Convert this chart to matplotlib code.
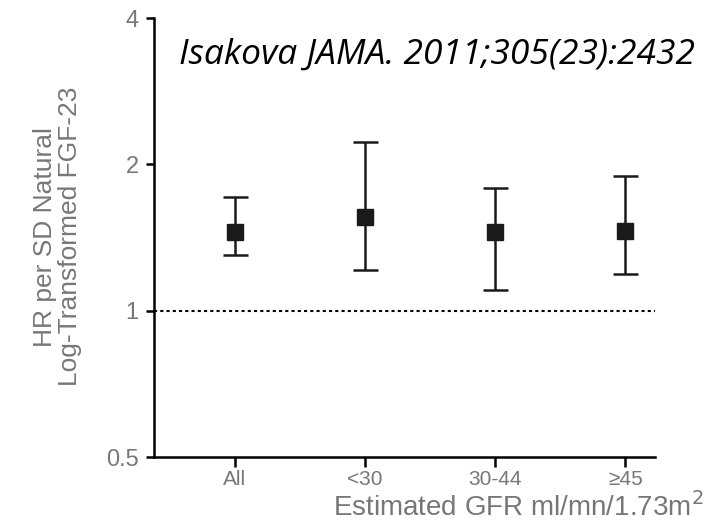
import matplotlib
matplotlib.use("Agg")
import matplotlib.pyplot as plt
import numpy as np
from matplotlib.ticker import FixedLocator, NullLocator

categories = ["All", "<30", "30-44", "≥45"]
hr = [1.455, 1.56, 1.455, 1.46]
ci_low = [1.30, 1.21, 1.105, 1.19]
ci_high = [1.71, 2.22, 1.785, 1.89]
y_ticks = [0.5, 1, 2, 4]
y_tick_labels = ["0.5", "1", "2", "4"]

fig = plt.figure(figsize=(7.07, 5.25), dpi=100)
ax = fig.add_axes([0.218, 0.1295, 0.709, 0.836])

x = np.arange(1, len(categories) + 1)
hr_a = np.array(hr)
yerr = np.vstack([hr_a - np.array(ci_low), np.array(ci_high) - hr_a])
ax.errorbar(x, hr_a, yerr=yerr, fmt="s", color="#1a1a1a", ms=12,
            capsize=9, elinewidth=1.8, capthick=1.8, zorder=3)
ax.axhline(1, xmin=0, xmax=1.0, color="black", ls=(0, (1.5, 1.5)), lw=1.5, zorder=1)

ax.set_yscale("log", base=2)
ax.set_ylim(0.5, 4)
ax.set_xlim(0.38, 4.23)
ax.yaxis.set_major_locator(FixedLocator(y_ticks))
ax.yaxis.set_minor_locator(NullLocator())
ax.set_yticklabels(y_tick_labels)
ax.set_xticks(x)
ax.set_xticklabels(categories)

for s in ["top", "right"]:
    ax.spines[s].set_visible(False)
for s in ["left", "bottom"]:
    ax.spines[s].set_linewidth(1.8)
ax.tick_params(axis="y", direction="out", length=6, width=1.8, pad=5, labelsize=17)
ax.tick_params(axis="x", direction="out", length=7, width=1.8, pad=2, labelsize=15)
for lbl in ax.get_xticklabels() + ax.get_yticklabels():
    lbl.set_color("#777777")
    lbl.set_family("Liberation Sans")

fig.text(0.081, 0.549, "HR per SD Natural\nLog-Transformed FGF-23", rotation=90,
         ha="center", va="center", fontsize=19,
         color="#777777", family="Liberation Sans", linespacing=1.05)
fig.text(0.983, 0.895, "Isakova JAMA. 2011;305(23):2432", ha="right", va="center",
         fontsize=25.5, style="italic", family="Open Sans", color="black")
fig.text(0.995, 0.018, "Estimated GFR ml/mn/1.73m$^2$", ha="right", va="baseline",
         fontsize=20, color="#777777", family="Liberation Sans")

fig.savefig("out.png", dpi=100)
